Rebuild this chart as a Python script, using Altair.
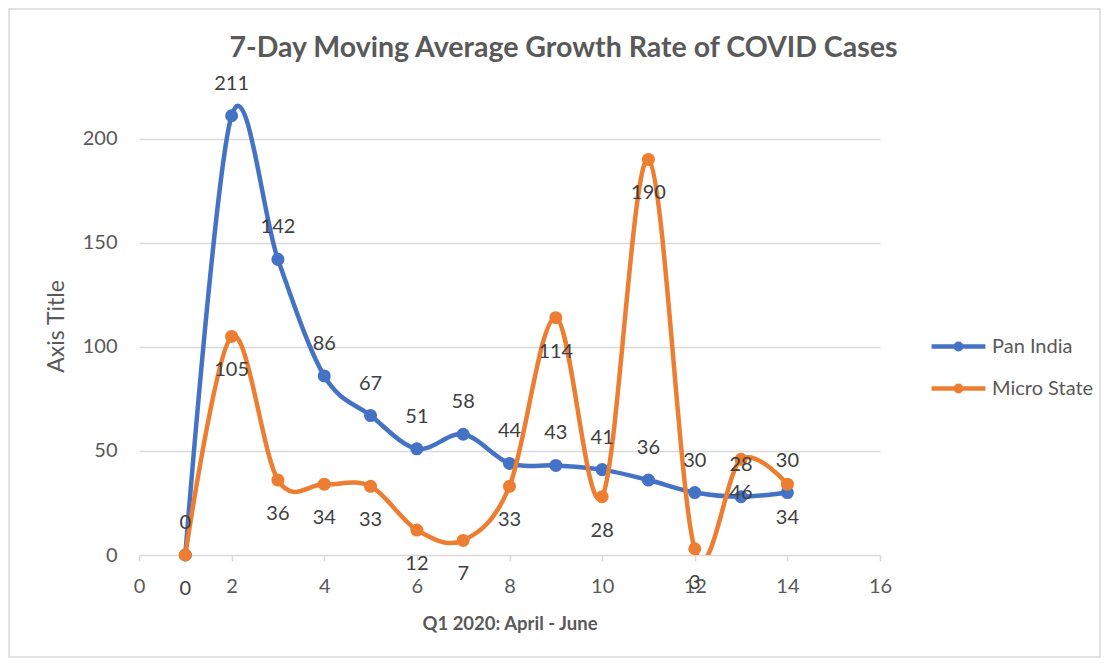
import altair as alt
import pandas as pd

# ---- data ----
days = [1, 2, 3, 4, 5, 6, 7, 8, 9, 10, 11, 12, 13, 14]
pan_india = [0, 211, 142, 86, 67, 51, 58, 44, 43, 41, 36, 30, 28, 30]
micro_state = [0, 105, 36, 34, 33, 12, 7, 33, 114, 28, 190, 3, 46, 34]
series_names = ["Pan India", "Micro State"]
series_colors = ["#4472C4", "#ED7D31"]
x_ticks = [0, 2, 4, 6, 8, 10, 12, 14, 16]
y_ticks = [0, 50, 100, 150, 200]

rows = []
for d, p, m in zip(days, pan_india, micro_state):
    rows.append({"day": d, "value": p, "series": "Pan India"})
    rows.append({"day": d, "value": m, "series": "Micro State"})
df = pd.DataFrame(rows)

FONT = "Lato"
TXT = "#595959"
LBL = "#404040"

W, H = 741, 458
PAD_L, PAD_T = 131, 89
TOTAL_W, TOTAL_H = 1093, 650

xs = alt.X("day:Q", scale=alt.Scale(domain=[0, 16], nice=False),
           axis=alt.Axis(values=x_ticks, title="Q1 2020: April - June", grid=False,
                         domain=False, ticks=True, tickColor="#d9d9d9", tickSize=6,
                         tickWidth=1.5, labelFontSize=20, labelColor=TXT, labelFont=FONT,
                         labelPadding=15, labelFlush=False, titleFont=FONT, titleFontSize=18.5,
                         titleFontWeight="bold", titleColor=TXT, titlePadding=18))
ys = alt.Y("value:Q", scale=alt.Scale(domain=[0, 220], nice=False),
           axis=alt.Axis(values=y_ticks, title="Axis Title", grid=True, gridColor="#d9d9d9",
                         gridWidth=1.5, domain=False, ticks=False, labelFontSize=20,
                         labelColor=TXT, labelFont=FONT, labelPadding=22, titleFont=FONT,
                         titleFontSize=23, titleFontWeight="normal", titleColor=TXT,
                         titlePadding=14))
color = alt.Color("series:N", scale=alt.Scale(domain=series_names, range=series_colors),
                  legend=alt.Legend(title=None, orient="none", legendX=790, legendY=220,
                                    labelFont=FONT, labelFontSize=20, labelColor=TXT,
                                    symbolType="M-1,0L1,0M0.1,0A0.1,0.1,0,1,1,-0.1,0A0.1,0.1,0,1,1,0.1,0Z",
                                    symbolSize=2900, symbolStrokeWidth=4.5,
                                    rowPadding=0, labelOffset=4))

base = alt.Chart(df)
layers = []
for name in series_names:
    sub = base.transform_filter(alt.datum.series == name)
    layers.append(sub.mark_line(interpolate="cardinal", strokeWidth=4.5, clip=True)
                  .encode(x=xs, y=ys, color=color))
    layers.append(sub.mark_circle(size=170, opacity=1)
                  .encode(x=xs, y=ys, color=color))

labels_pan = base.transform_filter(alt.datum.series == "Pan India").mark_text(
    dy=-32, fontSize=20, font=FONT, color=LBL).encode(x=xs, y=ys, text="value:Q")
labels_micro = base.transform_filter(alt.datum.series == "Micro State").mark_text(
    dy=34, fontSize=20, font=FONT, color=LBL).encode(x=xs, y=ys, text="value:Q")

border = alt.Chart(pd.DataFrame({"b": [0]})).mark_rect(
    fill=None, stroke="#d9d9d9", strokeWidth=1.5).encode(
    x=alt.value(-PAD_L + 1), x2=alt.value(TOTAL_W - PAD_L - 1),
    y=alt.value(-PAD_T + 1), y2=alt.value(TOTAL_H - PAD_T - 1))

chart = alt.layer(border, *layers, labels_pan, labels_micro).properties(
    width=W, height=H,
    title=alt.TitleParams("7-Day Moving Average Growth Rate of COVID Cases", font=FONT,
                          fontSize=28.5, fontWeight="bold", color=TXT, anchor="middle",
                          dx=54, offset=-54),
    autosize=alt.AutoSizeParams(type="none"),
    padding={"left": PAD_L, "top": PAD_T, "right": TOTAL_W - PAD_L - W,
             "bottom": TOTAL_H - PAD_T - H},
).configure_view(stroke=None)

chart.save("out.html", embed_options={"renderer": "svg", "actions": False})
